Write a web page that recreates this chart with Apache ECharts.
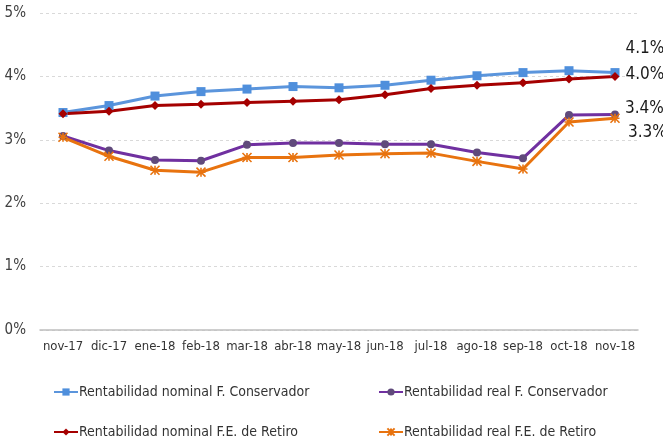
<!DOCTYPE html>
<html>
<head>
<meta charset="utf-8">
<script src="https://cdn.jsdelivr.net/npm/echarts@6/dist/echarts.min.js"></script>
<style>
  html, body { margin: 0; padding: 0; background: #fff; }
  #chart { width: 663px; height: 440px; }
</style>
</head>
<body>
<div id="chart"></div>
<script>
  // datos (%)
  const meses = ['nov-17', 'dic-17', 'ene-18', 'feb-18', 'mar-18', 'abr-18', 'may-18',
    'jun-18', 'jul-18', 'ago-18', 'sep-18', 'oct-18', 'nov-18'];
  const nominalConservador = [3.43, 3.54, 3.69, 3.76, 3.80, 3.84, 3.82, 3.86, 3.94, 4.01, 4.06, 4.09, 4.06];
  const nominalRetiro = [3.41, 3.45, 3.54, 3.56, 3.59, 3.61, 3.63, 3.71, 3.81, 3.86, 3.90, 3.96, 4.00];
  const realConservador = [3.06, 2.83, 2.68, 2.67, 2.92, 2.95, 2.95, 2.93, 2.93, 2.80, 2.71, 3.39, 3.40];
  const realRetiro = [3.04, 2.74, 2.52, 2.49, 2.72, 2.72, 2.76, 2.78, 2.79, 2.66, 2.54, 3.28, 3.34];
  const yTicks = [0, 1, 2, 3, 4, 5];

  const FONT = "'Liberation Sans Narrow', 'Arial Narrow', 'DejaVu Sans Condensed', sans-serif";
  const nombres = [
    'Rentabilidad nominal F. Conservador',
    'Rentabilidad real F. Conservador',
    'Rentabilidad nominal F.E. de Retiro',
    'Rentabilidad real F.E. de Retiro'
  ];
  const asterisco = 'path://M0,0L10,10M10,0L0,10M5,0L5,10M0,5L10,5';

  // etiqueta solo en el ultimo punto
  function conEtiqueta(arr, dy) {
    return arr.map(function (v, i) {
      if (i !== arr.length - 1) return v;
      return {
        value: v,
        label: {
          show: true, position: 'right', distance: 6, offset: [0, dy],
          formatter: function (p) { return p.value.toFixed(1) + '%'; },
          fontFamily: FONT, fontSize: 17, color: '#1a1a1a'
        }
      };
    });
  }

  function serie(name, data, color, symbol, size, markColor, dy) {
    const esAst = symbol === asterisco;
    return {
      name: name,
      type: 'line',
      data: conEtiqueta(data, dy),
      symbol: symbol,
      symbolSize: size,
      showSymbol: true,
      lineStyle: { color: color, width: 3 },
      itemStyle: { color: esAst ? 'none' : markColor, borderColor: markColor, borderWidth: esAst ? 1.6 : 0 },
      emphasis: { disabled: true },
      z: 3
    };
  }

  function leyenda(name, left, top) {
    return {
      data: [name], left: left, top: top,
      itemWidth: 24, itemHeight: 9, itemGap: 0,
      textStyle: { fontFamily: FONT, fontSize: 14, color: '#333', padding: [0, 0, 0, -4] }
    };
  }

  const chart = echarts.init(document.getElementById('chart'));
  chart.setOption({
    animation: false,
    grid: { left: 40, right: 25, top: 13, bottom: 110 },
    legend: [
      leyenda(nombres[0], 48, 380),
      leyenda(nombres[1], 373, 380),
      leyenda(nombres[2], 48, 420),
      leyenda(nombres[3], 373, 420)
    ],
    xAxis: {
      type: 'category',
      data: meses,
      boundaryGap: true,
      axisTick: { show: false },
      axisLine: { lineStyle: { color: '#bfbfbf', width: 1.5 } },
      axisLabel: { fontFamily: FONT, fontSize: 13, color: '#333', margin: 10, interval: 0 }
    },
    yAxis: {
      type: 'value',
      min: yTicks[0],
      max: yTicks[yTicks.length - 1],
      interval: 1,
      axisLine: { show: false },
      axisTick: { show: false },
      splitLine: { lineStyle: { color: '#d9d9d9', type: [3, 3] } },
      axisLabel: { fontFamily: FONT, fontSize: 15, color: '#404040', margin: 14, formatter: '{value}%' }
    },
    series: [
      serie(nombres[0], nominalConservador, '#5b95dc', 'rect', 9, '#4f8fdc', -24),
      serie(nombres[1], realConservador, '#7030a0', 'circle', 8, '#604a7b', -6),
      serie(nombres[2], nominalRetiro, '#a50000', 'diamond', 9, '#a50000', -2),
      serie(nombres[3], realRetiro, '#e8730f', asterisco, 9, '#e8730f', 14)
    ]
  });
</script>
</body>
</html>
